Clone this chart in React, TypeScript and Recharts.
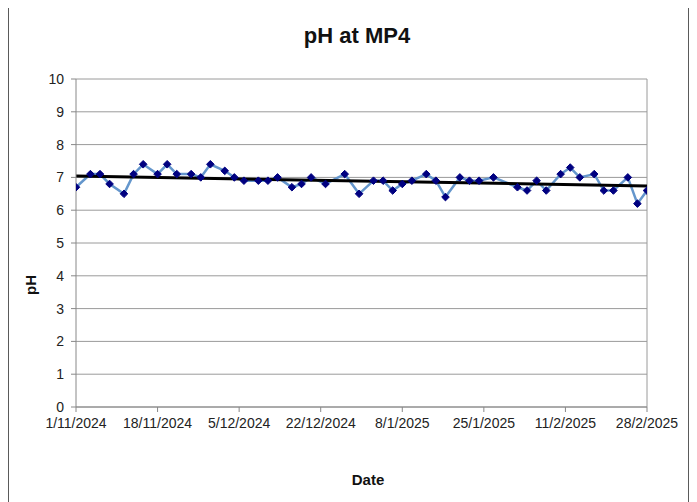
import React from 'react';
import { LineChart, Line, XAxis, YAxis, CartesianGrid, ReferenceLine } from 'recharts';

// sample dates (d/m/yyyy) and pH readings at MP4
const sampleDates = [
  '1/11/2024', '4/11/2024', '6/11/2024', '8/11/2024', '11/11/2024', '13/11/2024', '15/11/2024',
  '18/11/2024', '20/11/2024', '22/11/2024', '25/11/2024', '27/11/2024', '29/11/2024',
  '2/12/2024', '4/12/2024', '6/12/2024', '9/12/2024', '11/12/2024', '13/12/2024',
  '16/12/2024', '18/12/2024', '20/12/2024', '23/12/2024', '27/12/2024', '30/12/2024',
  '2/1/2025', '4/1/2025', '6/1/2025', '8/1/2025', '10/1/2025', '13/1/2025', '15/1/2025',
  '17/1/2025', '20/1/2025', '22/1/2025', '24/1/2025', '27/1/2025', '1/2/2025', '3/2/2025',
  '5/2/2025', '7/2/2025', '10/2/2025', '12/2/2025', '14/2/2025', '17/2/2025', '19/2/2025',
  '21/2/2025', '24/2/2025', '26/2/2025', '28/2/2025',
];
const phValues = [
  6.7, 7.1, 7.1, 6.8, 6.5, 7.1, 7.4,
  7.1, 7.4, 7.1, 7.1, 7.0, 7.4,
  7.2, 7.0, 6.9, 6.9, 6.9, 7.0,
  6.7, 6.8, 7.0, 6.8, 7.1, 6.5,
  6.9, 6.9, 6.6, 6.8, 6.9, 7.1, 6.9,
  6.4, 7.0, 6.9, 6.9, 7.0, 6.7, 6.6,
  6.9, 6.6, 7.1, 7.3, 7.0, 7.1, 6.6,
  6.6, 7.0, 6.2, 6.6,
];

// linear trendline end points
const trendDates = ['1/11/2024', '28/2/2025'];
const trendValues = [7.04, 6.74];

const dateTicks = [
  '1/11/2024', '18/11/2024', '5/12/2024', '22/12/2024',
  '8/1/2025', '25/1/2025', '11/2/2025', '28/2/2025',
];
const yTicks = [0, 1, 2, 3, 4, 5, 6, 7, 8, 9, 10];

const FONT = '"Liberation Sans", Arial, sans-serif';

const toDays = (s: string) => {
  const [d, m, y] = s.split('/').map(Number);
  return Date.UTC(y, m - 1, d) / 86400000;
};
const origin = toDays(dateTicks[0]);
const dayOf = (s: string) => toDays(s) - origin;

const chartData = sampleDates.map((d, i) => ({ day: dayOf(d), ph: phValues[i] }));
const trendData = trendDates.map((d, i) => ({ day: dayOf(d), trend: trendValues[i] }));
const tickDays = dateTicks.map(dayOf);
const labelFor: Record<number, string> = {};
dateTicks.forEach((t) => (labelFor[dayOf(t)] = t));

const Diamond = (props: any) => {
  const { cx, cy } = props;
  if (cx == null || cy == null) return null;
  const r = 3.8;
  return (
    <polygon
      points={`${cx},${cy - r} ${cx + r},${cy} ${cx},${cy + r} ${cx - r},${cy}`}
      fill="#000080"
      stroke="#000080"
    />
  );
};

export default function App() {
  return (
    <div
      style={{
        position: 'relative',
        left: -8,
        top: -8,
        width: 697,
        height: 502,
        overflow: 'hidden',
        background: '#fff',
        fontFamily: FONT,
      }}
    >
      <div
        style={{
          position: 'absolute',
          left: 8,
          top: 4,
          width: 679,
          height: 520,
          border: '1px solid #5a5a5a',
        }}
      />
      <div
        style={{
          position: 'absolute',
          left: 0,
          width: 714,
          top: 23,
          textAlign: 'center',
          fontWeight: 'bold',
          fontSize: 22,
          color: '#111',
        }}
      >
        pH at MP4
      </div>
      <LineChart
        width={697}
        height={502}
        data={chartData}
        margin={{ top: 79, right: 50, left: 16, bottom: 65 }}
        style={{ position: 'absolute', left: 0, top: 0 }}
      >
        <CartesianGrid horizontal vertical={false} stroke="#9a9a9a" strokeWidth={1} />
        <XAxis
          dataKey="day"
          type="number"
          domain={[0, tickDays[tickDays.length - 1]]}
          ticks={tickDays}
          tickFormatter={(v: number) => labelFor[v] ?? ''}
          interval={0}
          height={30}
          tickSize={5}
          tickMargin={6}
          stroke="#888"
          tick={{ fill: '#222', fontSize: 14, fontFamily: FONT }}
          allowDataOverflow
        />
        <YAxis
          type="number"
          domain={[0, 10]}
          ticks={yTicks}
          interval={0}
          width={60}
          tickSize={5}
          tickMargin={7}
          stroke="#888"
          tick={{ fill: '#222', fontSize: 14, fontFamily: FONT }}
        />
        <ReferenceLine x={tickDays[tickDays.length - 1]} stroke="#9a9a9a" />
        <Line
          dataKey="ph"
          stroke="#6496cc"
          strokeWidth={2.5}
          dot={<Diamond />}
          isAnimationActive={false}
        />
        <Line
          data={trendData}
          dataKey="trend"
          stroke="#000"
          strokeWidth={3}
          dot={false}
          isAnimationActive={false}
        />
      </LineChart>
      <div
        style={{
          position: 'absolute',
          left: 0,
          width: 736,
          top: 471,
          textAlign: 'center',
          fontWeight: 'bold',
          fontSize: 15,
          color: '#111',
        }}
      >
        Date
      </div>
      <div
        style={{
          position: 'absolute',
          left: 30,
          top: 285,
          transform: 'translate(-50%, -50%) rotate(-90deg)',
          fontWeight: 'bold',
          fontSize: 15,
          color: '#111',
        }}
      >
        pH
      </div>
    </div>
  );
}
